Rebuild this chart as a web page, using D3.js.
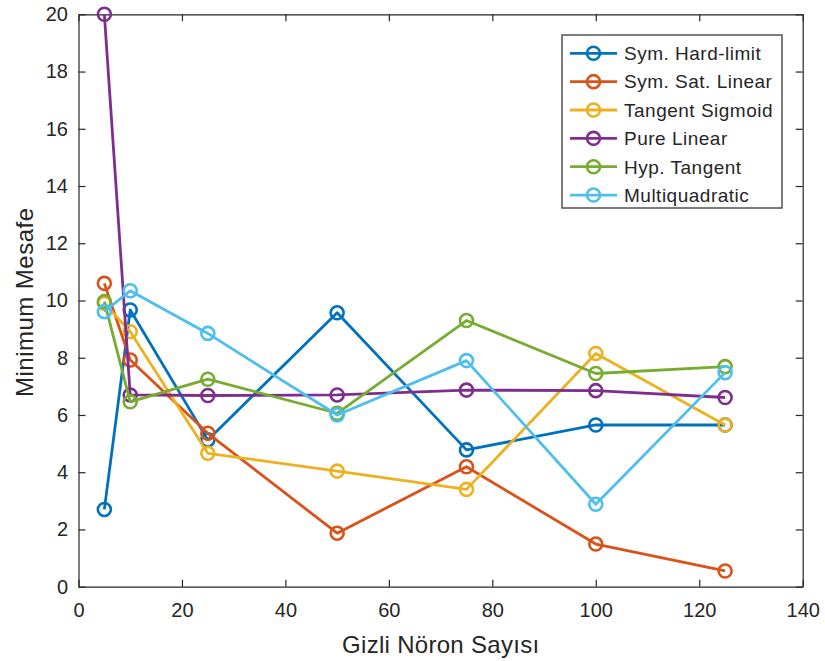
<!DOCTYPE html>
<html>
<head>
<meta charset="utf-8">
<script src="https://cdn.jsdelivr.net/npm/d3@7"></script>
<style>
  html, body { margin: 0; padding: 0; background: #fff; }
  svg { display: block; }
  text { font-family: "Liberation Sans", Arial, sans-serif; fill: #262626; }
</style>
</head>
<body>
<svg id="chart" width="825" height="661"></svg>
<script>
// Hidden neuron counts on the x axis
const neurons = [5, 10, 25, 50, 75, 100, 125];

// Minimum distance per activation function
const symHardLimit   = [2.7, 9.67, 5.13, 9.57, 4.78, 5.65, 5.65];
const symSatLinear   = [10.6, 7.92, 5.36, 1.87, 4.19, 1.49, 0.55];
const tangentSigmoid = [9.9, 8.91, 4.66, 4.04, 3.40, 8.15, 5.65];
const pureLinear     = [20.0, 6.70, 6.68, 6.70, 6.87, 6.85, 6.61];
const hypTangent     = [9.96, 6.46, 7.25, 6.06, 9.30, 7.45, 7.69];
const multiquadratic = [9.61, 10.34, 8.85, 6.0, 7.90, 2.88, 7.48];

const seriesNames = ["Sym. Hard-limit", "Sym. Sat. Linear", "Tangent Sigmoid",
                     "Pure Linear", "Hyp. Tangent", "Multiquadratic"];
const seriesValues = [symHardLimit, symSatLinear, tangentSigmoid,
                      pureLinear, hypTangent, multiquadratic];
const seriesColors = ["#0072BD", "#D95319", "#EDB120", "#7E2F8E", "#77AC30", "#4DBEEE"];

const xTicks = [0, 20, 40, 60, 80, 100, 120, 140];
const yTicks = [0, 2, 4, 6, 8, 10, 12, 14, 16, 18, 20];

const xLabel = "Gizli Nöron Sayısı";
const yLabel = "Minimum Mesafe";

const svg = d3.select("#chart");
const plotL = 78.5, plotR = 802.7, plotT = 14.3, plotB = 586.7;

const x = d3.scaleLinear().domain([0, 140]).range([plotL, plotR]);
const y = d3.scaleLinear().domain([0, 20]).range([plotB, plotT]);

const axisColor = "#262626";
const tickLen = 7;

// Axes with inward ticks on all four sides
const axB = svg.append("g").attr("transform", `translate(0,${plotB})`)
  .call(d3.axisBottom(x).tickValues(xTicks).tickSizeInner(-tickLen).tickSizeOuter(0).tickPadding(16.5));
const axT = svg.append("g").attr("transform", `translate(0,${plotT})`)
  .call(d3.axisTop(x).tickValues(xTicks).tickSizeInner(-tickLen).tickSizeOuter(0).tickFormat(""));
const axL = svg.append("g").attr("transform", `translate(${plotL},0)`)
  .call(d3.axisLeft(y).tickValues(yTicks).tickSizeInner(-tickLen).tickSizeOuter(0).tickPadding(10.5));
const axR = svg.append("g").attr("transform", `translate(${plotR},0)`)
  .call(d3.axisRight(y).tickValues(yTicks).tickSizeInner(-tickLen).tickSizeOuter(0).tickFormat(""));

[axB, axT, axL, axR].forEach(g => {
  g.select(".domain").attr("stroke", axisColor).attr("stroke-width", 1.2);
  g.selectAll(".tick line").attr("stroke", axisColor).attr("stroke-width", 1.2);
  g.selectAll(".tick text").attr("fill", "#404040")
    .style("font-size", "20px").style("font-family", "'Liberation Sans', Arial, sans-serif");
});

// Axis titles
svg.append("text")
  .attr("x", (plotL + plotR) / 2).attr("y", 652.5)
  .attr("text-anchor", "middle")
  .attr("textLength", 197).attr("lengthAdjust", "spacing")
  .style("font-size", "24px").attr("fill", "#404040")
  .text(xLabel);

svg.append("text")
  .attr("transform", `translate(33,${(plotT + plotB) / 2 + 2}) rotate(-90)`)
  .attr("text-anchor", "middle")
  .attr("textLength", 189).attr("lengthAdjust", "spacing")
  .style("font-size", "24px").attr("fill", "#404040")
  .text(yLabel);

// Lines and circle markers
const line = d3.line().x((d, i) => x(neurons[i])).y(d => y(d));

seriesValues.forEach((vals, s) => {
  const g = svg.append("g");
  g.append("path")
    .datum(vals)
    .attr("d", line)
    .attr("fill", "none")
    .attr("stroke", seriesColors[s])
    .attr("stroke-width", 2.8)
    .attr("stroke-linejoin", "round");
  g.selectAll("circle")
    .data(vals)
    .join("circle")
    .attr("cx", (d, i) => x(neurons[i]))
    .attr("cy", d => y(d))
    .attr("r", 6.5)
    .attr("fill", "none")
    .attr("stroke", seriesColors[s])
    .attr("stroke-width", 2.6);
});

// Legend
const lg = svg.append("g");
const lgX = 562, lgY = 35, lgW = 220, lgH = 173;
lg.append("rect")
  .attr("x", lgX).attr("y", lgY).attr("width", lgW).attr("height", lgH)
  .attr("fill", "#fff").attr("stroke", axisColor).attr("stroke-width", 1.2);

seriesNames.forEach((name, s) => {
  const cy = 53.3 + s * 28.35;
  lg.append("line")
    .attr("x1", 570).attr("x2", 617).attr("y1", cy).attr("y2", cy)
    .attr("stroke", seriesColors[s]).attr("stroke-width", 2.8);
  lg.append("circle")
    .attr("cx", 593.5).attr("cy", cy).attr("r", 6.5)
    .attr("fill", "none").attr("stroke", seriesColors[s]).attr("stroke-width", 2.6);
  lg.append("text")
    .attr("x", 624).attr("y", cy).attr("dy", "0.36em")
    .style("font-size", "19px").style("letter-spacing", "0.5px").attr("fill", "#262626")
    .text(name);
});
</script>
</body>
</html>
